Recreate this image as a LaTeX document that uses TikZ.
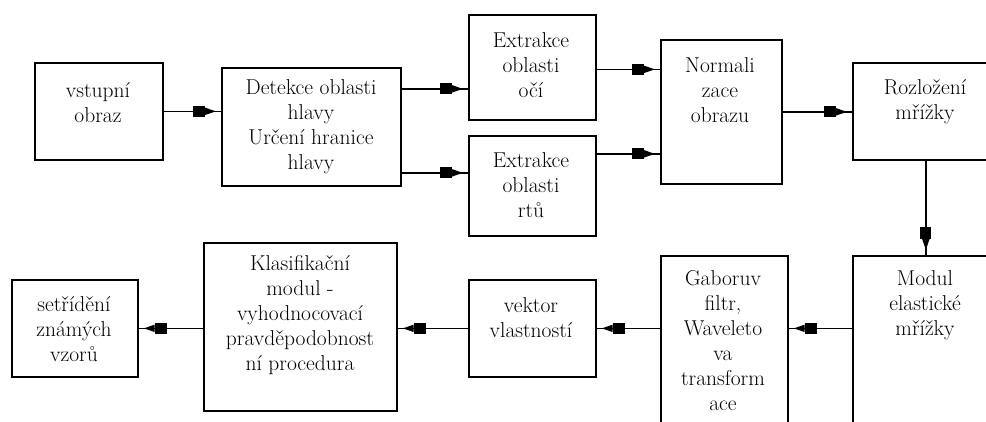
\documentclass[tikz,border=0pt]{standalone}
\usepackage{fontspec}
\usetikzlibrary{arrows.meta,decorations.markings}
\tikzset{
  blk tip/.tip={Rectangle[length=12pt,width=11pt]Triangle[length=11pt,width=7pt]},
  box/.style={draw, line width=1.7pt, anchor=north west, inner sep=0pt},
  txt/.style={align=center, font=\rmfamily\addfontfeatures{FakeBold=0.6}\fontsize{21.5}{25}\selectfont, inner sep=0pt},
  conn/.style={line width=1.6pt, postaction={decorate},
    decoration={markings, mark=at position -5pt with {\arrow{blk tip}}}},
}
\begin{document}
\begin{tikzpicture}[x=1pt,y=-1pt]
\useasboundingbox (0,0) rectangle (986,421);
\clip (0,0) rectangle (986,421);
% boxes
\node[box, minimum width=128pt, minimum height=97pt]  (b1)  at (34,62)   {};
\node[box, minimum width=179pt, minimum height=118pt] (b2)  at (221,67)  {};
\node[box, minimum width=127pt, minimum height=105pt] (b3)  at (468,14)  {};
\node[box, minimum width=127pt, minimum height=100pt] (b4)  at (468,135) {};
\node[box, minimum width=121pt, minimum height=144pt] (b5)  at (660,39)  {};
\node[box, minimum width=146pt, minimum height=97pt]  (b6)  at (852,62)  {};
\node[box, minimum width=146pt, minimum height=200pt] (b7)  at (852,255) {};
\node[box, minimum width=127pt, minimum height=200pt] (b8)  at (660,255) {};
\node[box, minimum width=127pt, minimum height=97pt]  (b9)  at (468,279) {};
\node[box, minimum width=193pt, minimum height=168pt] (b10) at (203,242) {};
\node[box, minimum width=126pt, minimum height=97pt]  (b11) at (11,279)  {};
% texts
\node[txt] (t1)  at (98,103)  {vstupní\\obraz};
\node[txt] (t2)  at (311,127) {Detekce oblasti\\hlavy\\Určení hranice\\hlavy};
\node[txt] (t3)  at (531,65)  {Extrakce\\oblasti\\očí};
\node[txt] (t4)  at (531,185) {Extrakce\\oblasti\\rtů};
\node[txt] (t5)  at (720,90)  {Normali\\zace\\obrazu};
\node[txt] (t6)  at (925,102) {Rozložení\\mřížky};
\node[txt] (t7)  at (925,305) {Modul\\elastické\\mřížky};
\node[txt] (t8)  at (723,341) {Gaboruv\\filtr,\\Waveleto\\va\\transform\\ace};
\node[txt] (t9)  at (531,318) {vektor\\vlastností};
\node[txt] (t10) at (300,315) {Klasifikační\\modul -\\vyhodnocovací\\pravděpodobnost\\ní procedura};
\node[txt] (t11) at (74,329)  {setřídění\\známých\\vzorů};
% connectors
\draw[conn] (b1.east) -- (b1.east -| b2.west);
\draw[conn] ([yshift=38pt]b2.east) -- ([yshift=38pt]b2.east -| b3.west);
\draw[conn] ([yshift=-46pt]b2.east) -- ([yshift=-46pt]b2.east -| b4.west);
\draw[conn] ([yshift=-2pt]b3.east) -- ([yshift=-2pt]b3.east -| b5.west);
\draw[conn] ([yshift=32pt]b4.east) -- ([yshift=32pt]b4.east -| b5.west);
\draw[conn] (b5.east) -- (b5.east -| b6.west);
\draw[conn] (b6.south) -- (b7.north);
\draw[conn] (b7.west |- b9.east) -- (b8.east |- b9.east);
\draw[conn] (b8.west |- b9.east) -- (b9.east);
\draw[conn] (b9.west) -- (b9.west -| b10.east);
\draw[conn] (b10.west |- b11.east) -- (b11.east);
\end{tikzpicture}
\end{document}
